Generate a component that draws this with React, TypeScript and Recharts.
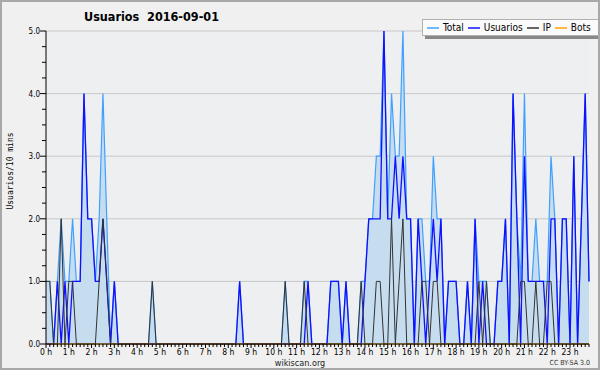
import React from 'react';
import { ComposedChart, Area, Line, XAxis, YAxis, CartesianGrid, Legend } from 'recharts';

// 10-minute intervals, 0:00 .. 23:50 (144 points)
const usuarios = [
  0, 0, 0, 1, 0, 1, 0, 1, 1, 1, 4, 2, 2, 1, 1, 2, 1, 0, 1, 0, 0, 0, 0, 0,
  0, 0, 0, 0, 0, 0, 0, 0, 0, 0, 0, 0, 0, 0, 0, 0, 0, 0, 0, 0, 0, 0, 0, 0,
  0, 0, 0, 1, 0, 0, 0, 0, 0, 0, 0, 0, 0, 0, 0, 0, 0, 0, 0, 0, 0, 1, 0, 0,
  0, 0, 0, 1, 1, 1, 0, 1, 0, 0, 0, 0, 1, 2, 2, 2, 2, 5, 2, 2, 3, 2, 3, 2,
  2, 0, 2, 1, 0, 1, 2, 1, 2, 0, 1, 1, 1, 0, 0, 1, 0, 2, 0, 1, 0, 0, 0, 1,
  1, 2, 0, 4, 2, 0, 3, 1, 1, 1, 1, 1, 0, 2, 2, 0, 2, 2, 0, 3, 0, 2, 4, 1,
];
const ip = [
  1, 1, 0, 0, 2, 0, 1, 1, 0, 0, 0, 0, 0, 0, 1, 2, 1, 0, 0, 0, 0, 0, 0, 0,
  0, 0, 0, 0, 1, 0, 0, 0, 0, 0, 0, 0, 0, 0, 0, 0, 0, 0, 0, 0, 0, 0, 0, 0,
  0, 0, 0, 0, 0, 0, 0, 0, 0, 0, 0, 0, 0, 0, 0, 1, 0, 0, 0, 0, 1, 0, 0, 0,
  0, 0, 0, 0, 0, 0, 0, 0, 0, 0, 0, 1, 0, 0, 0, 1, 1, 0, 0, 2, 0, 1, 2, 0,
  0, 0, 0, 1, 1, 0, 1, 1, 0, 0, 0, 0, 0, 0, 0, 0, 0, 0, 1, 0, 1, 0, 0, 0,
  0, 0, 0, 0, 0, 1, 1, 0, 0, 1, 0, 0, 1, 1, 0, 0, 0, 0, 0, 0, 0, 0, 0, 0,
];
const bots = [
  0, 0, 0, 0, 0, 0, 0, 0, 0, 0, 0, 0, 0, 0, 0, 0, 0, 0, 0, 0, 0, 0, 0, 0,
  0, 0, 0, 0, 0, 0, 0, 0, 0, 0, 0, 0, 0, 0, 0, 0, 0, 0, 0, 0, 0, 0, 0, 0,
  0, 0, 0, 0, 0, 0, 0, 0, 0, 0, 0, 0, 0, 0, 0, 0, 0, 0, 0, 0, 0, 0, 0, 0,
  0, 0, 0, 0, 0, 0, 0, 0, 0, 0, 0, 0, 0, 0, 0, 0, 0, 0, 0, 0, 0, 0, 0, 0,
  0, 0, 0, 0, 0, 0, 0, 0, 0, 0, 0, 0, 0, 0, 0, 0, 0, 0, 0, 0, 0, 0, 0, 0,
  0, 0, 0, 0, 0, 0, 0, 0, 0, 0, 0, 0, 0, 0, 0, 0, 0, 0, 0, 0, 0, 0, 0, 0,
];
const total = [
  1, 1, 0, 1, 2, 1, 1, 2, 1, 1, 4, 2, 2, 1, 2, 4, 2, 0, 1, 0, 0, 0, 0, 0,
  0, 0, 0, 0, 1, 0, 0, 0, 0, 0, 0, 0, 0, 0, 0, 0, 0, 0, 0, 0, 0, 0, 0, 0,
  0, 0, 0, 1, 0, 0, 0, 0, 0, 0, 0, 0, 0, 0, 0, 1, 0, 0, 0, 0, 1, 1, 0, 0,
  0, 0, 0, 1, 1, 1, 0, 1, 0, 0, 0, 1, 1, 2, 2, 3, 3, 5, 2, 4, 3, 3, 5, 2,
  2, 0, 2, 2, 1, 1, 3, 2, 2, 0, 1, 1, 1, 0, 0, 1, 0, 2, 1, 1, 1, 0, 0, 1,
  1, 2, 0, 4, 2, 1, 4, 1, 1, 2, 1, 1, 1, 3, 2, 0, 2, 2, 0, 3, 0, 2, 4, 1,
];

const hourLabels = [
  '0 h', '1 h', '2 h', '3 h', '4 h', '5 h', '6 h', '7 h', '8 h', '9 h', '10 h', '11 h',
  '12 h', '13 h', '14 h', '15 h', '16 h', '17 h', '18 h', '19 h', '20 h', '21 h', '22 h', '23 h',
];
const yLabels = ['0.0', '1.0', '2.0', '3.0', '4.0', '5.0'];
const yGridValues = [1, 2, 3, 4, 5];

const seriesNames = { total: 'Total', usuarios: 'Usuarios', ip: 'IP', bots: 'Bots' };
const colors = { total: '#40a0ff', fill: '#c6ddf0', usuarios: '#1010ff', ip: '#333333', bots: '#ffa500' };

const data = usuarios.map((u, i) => ({ t: i, total: total[i], usuarios: u, ip: ip[i], bots: bots[i] }));

const xTicks = data.map((d) => d.t);
const yTicks = Array.from({ length: 21 }, (_, k) => k * 0.25);

const FONT = '"DejaVu Sans Condensed", "DejaVu Sans", sans-serif';

const XTick = (props: any) => {
  const { x, y, payload } = props;
  const v = payload.value as number;
  const isHour = v % 6 === 0;
  return (
    <g>
      <line x1={x} x2={x} y1={y} y2={y + (isHour ? 4 : 3)} stroke="#000" strokeWidth={1} />
      {isHour && (
        <text x={x} y={y + 11} textAnchor="middle" fontSize={8.5} fontFamily={FONT} fill="#000">
          {hourLabels[v / 6]}
        </text>
      )}
    </g>
  );
};

const YTick = (props: any) => {
  const { x, y, payload } = props;
  const v = payload.value as number;
  const isMajor = Math.abs(v - Math.round(v)) < 1e-9;
  return (
    <g>
      <line x1={x - (isMajor ? 6 : 4)} x2={x} y1={y} y2={y} stroke="#000" strokeWidth={1} />
      {isMajor && (
        <text x={x - 6} y={y + 3} textAnchor="end" fontSize={8} fontFamily={FONT} fill="#000">
          {yLabels[Math.round(v)]}
        </text>
      )}
    </g>
  );
};

const LegendBox = () => {
  const items: [keyof typeof seriesNames, string][] = [
    ['total', colors.total],
    ['usuarios', colors.usuarios],
    ['ip', colors.ip],
    ['bots', colors.bots],
  ];
  return (
    <div
      style={{
        background: '#fafafa',
        border: '1px solid #b0b0b0',
        boxShadow: '3px 3px 0 #888',
        height: 15,
        display: 'flex',
        alignItems: 'center',
        padding: '0 3px 0 4px',
        fontFamily: FONT,
        fontSize: 10,
        color: '#000',
        whiteSpace: 'nowrap',
      }}
    >
      {items.map(([key, c]) => (
        <span key={key} style={{ display: 'inline-flex', alignItems: 'center', marginRight: 4 }}>
          <svg width={12} height={4} style={{ marginRight: 4, display: 'block' }}>
            <line x1={0} x2={12} y1={2} y2={2} stroke={c} strokeWidth={1.5} />
          </svg>
          <span>{seriesNames[key]}</span>
        </span>
      ))}
    </div>
  );
};

export default function App() {
  return (
    <div
      style={{
        position: 'absolute',
        left: 0,
        top: 0,
        width: 600,
        height: 370,
        background: '#f0f0f0',
        overflow: 'hidden',
      }}
    >
      <ComposedChart width={600} height={370} data={data} margin={{ top: 31, right: 11, left: 0, bottom: 0 }}>
        <CartesianGrid
          vertical={false}
          horizontal={true}
          horizontalValues={yGridValues}
          stroke="#c8c8c8"
          strokeWidth={1}
          fill="#eeeff1"
        />
        <XAxis
          dataKey="t"
          type="number"
          domain={[0, 143]}
          ticks={xTicks}
          interval={0}
          height={26}
          tickSize={0}
          tickMargin={0}
          tick={<XTick />}
          axisLine={{ stroke: '#000', strokeWidth: 1 }}
          tickLine={false}
          allowDecimals={false}
        />
        <YAxis
          type="number"
          domain={[0, 5]}
          ticks={yTicks}
          interval={0}
          width={46}
          tickSize={0}
          tickMargin={0}
          tick={<YTick />}
          axisLine={{ stroke: '#000', strokeWidth: 1 }}
          tickLine={false}
        />
        <Area
          type="linear"
          dataKey="total"
          name={seriesNames.total}
          stroke={colors.total}
          strokeWidth={1.2}
          fill={colors.fill}
          fillOpacity={1}
          dot={false}
          activeDot={false}
          isAnimationActive={false}
        />
        <Line
          type="linear"
          dataKey="usuarios"
          name={seriesNames.usuarios}
          stroke={colors.usuarios}
          strokeWidth={1.3}
          dot={false}
          activeDot={false}
          isAnimationActive={false}
        />
        <Line
          type="linear"
          dataKey="ip"
          name={seriesNames.ip}
          stroke={colors.ip}
          strokeWidth={1}
          dot={false}
          activeDot={false}
          isAnimationActive={false}
        />
        <Line
          type="linear"
          dataKey="bots"
          name={seriesNames.bots}
          stroke={colors.bots}
          strokeWidth={1}
          dot={false}
          activeDot={false}
          isAnimationActive={false}
        />
        <Legend
          layout="vertical"
          align="center"
          verticalAlign="middle"
          wrapperStyle={{ position: 'absolute', left: 422, top: 19, width: 'auto', height: 'auto' }}
          content={() => <LegendBox />}
        />
      </ComposedChart>
      <div
        style={{
          position: 'absolute',
          left: 84,
          top: 9,
          fontFamily: FONT,
          fontWeight: 'bold',
          fontSize: 12.5,
          whiteSpace: 'pre',
          color: '#000',
        }}
      >
        {'Usuarios  2016-09-01'}
      </div>
      <div
        style={{
          position: 'absolute',
          left: 10,
          top: 171,
          transform: 'translate(-50%, -50%) rotate(-90deg)',
          fontFamily: '"DejaVu Sans Mono", monospace',
          fontSize: 8,
          whiteSpace: 'pre',
          color: '#000',
        }}
      >
        Usuarios/10 mins
      </div>
      <div
        style={{
          position: 'absolute',
          left: 0,
          width: 600,
          top: 358,
          height: 10,
          lineHeight: '10px',
          textAlign: 'center',
          fontFamily: FONT,
          fontSize: 9,
          color: '#222',
        }}
      >
        wikiscan.org
      </div>
      <div
        style={{
          position: 'absolute',
          right: 10,
          top: 359,
          height: 8,
          lineHeight: '8px',
          fontFamily: FONT,
          fontSize: 7,
          color: '#333',
        }}
      >
        CC BY-SA 3.0
      </div>
      <div
        style={{
          position: 'absolute',
          left: 0,
          top: 0,
          width: 600,
          height: 370,
          boxSizing: 'border-box',
          border: '2px solid #a8a8a8',
          pointerEvents: 'none',
        }}
      />
    </div>
  );
}
